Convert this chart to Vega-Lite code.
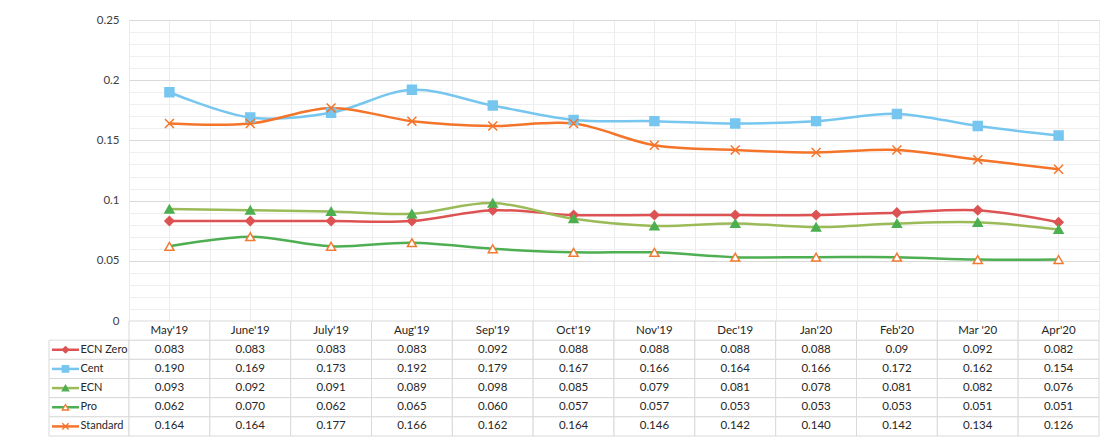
{
  "$schema": "https://vega.github.io/schema/vega-lite/v6.json",
  "padding": {"left": 48, "top": 13, "right": 10, "bottom": 4},
  "background": "white",
  "config": {
    "view": {"stroke": null},
    "font": "Lato",
    "text": {"font": "Lato"},
    "axis": {"labelFont": "Lato"}
  },
  "datasets": {
    "d": [
      {"month":"May'19","series":"ECN Zero","value":0.083,"label":"0.083"},
      {"month":"June'19","series":"ECN Zero","value":0.083,"label":"0.083"},
      {"month":"July'19","series":"ECN Zero","value":0.083,"label":"0.083"},
      {"month":"Aug'19","series":"ECN Zero","value":0.083,"label":"0.083"},
      {"month":"Sep'19","series":"ECN Zero","value":0.092,"label":"0.092"},
      {"month":"Oct'19","series":"ECN Zero","value":0.088,"label":"0.088"},
      {"month":"Nov'19","series":"ECN Zero","value":0.088,"label":"0.088"},
      {"month":"Dec'19","series":"ECN Zero","value":0.088,"label":"0.088"},
      {"month":"Jan'20","series":"ECN Zero","value":0.088,"label":"0.088"},
      {"month":"Feb'20","series":"ECN Zero","value":0.09,"label":"0.09"},
      {"month":"Mar '20","series":"ECN Zero","value":0.092,"label":"0.092"},
      {"month":"Apr'20","series":"ECN Zero","value":0.082,"label":"0.082"},
      {"month":"May'19","series":"Cent","value":0.190,"label":"0.190"},
      {"month":"June'19","series":"Cent","value":0.169,"label":"0.169"},
      {"month":"July'19","series":"Cent","value":0.173,"label":"0.173"},
      {"month":"Aug'19","series":"Cent","value":0.192,"label":"0.192"},
      {"month":"Sep'19","series":"Cent","value":0.179,"label":"0.179"},
      {"month":"Oct'19","series":"Cent","value":0.167,"label":"0.167"},
      {"month":"Nov'19","series":"Cent","value":0.166,"label":"0.166"},
      {"month":"Dec'19","series":"Cent","value":0.164,"label":"0.164"},
      {"month":"Jan'20","series":"Cent","value":0.166,"label":"0.166"},
      {"month":"Feb'20","series":"Cent","value":0.172,"label":"0.172"},
      {"month":"Mar '20","series":"Cent","value":0.162,"label":"0.162"},
      {"month":"Apr'20","series":"Cent","value":0.154,"label":"0.154"},
      {"month":"May'19","series":"ECN","value":0.093,"label":"0.093"},
      {"month":"June'19","series":"ECN","value":0.092,"label":"0.092"},
      {"month":"July'19","series":"ECN","value":0.091,"label":"0.091"},
      {"month":"Aug'19","series":"ECN","value":0.089,"label":"0.089"},
      {"month":"Sep'19","series":"ECN","value":0.098,"label":"0.098"},
      {"month":"Oct'19","series":"ECN","value":0.085,"label":"0.085"},
      {"month":"Nov'19","series":"ECN","value":0.079,"label":"0.079"},
      {"month":"Dec'19","series":"ECN","value":0.081,"label":"0.081"},
      {"month":"Jan'20","series":"ECN","value":0.078,"label":"0.078"},
      {"month":"Feb'20","series":"ECN","value":0.081,"label":"0.081"},
      {"month":"Mar '20","series":"ECN","value":0.082,"label":"0.082"},
      {"month":"Apr'20","series":"ECN","value":0.076,"label":"0.076"},
      {"month":"May'19","series":"Pro","value":0.062,"label":"0.062"},
      {"month":"June'19","series":"Pro","value":0.070,"label":"0.070"},
      {"month":"July'19","series":"Pro","value":0.062,"label":"0.062"},
      {"month":"Aug'19","series":"Pro","value":0.065,"label":"0.065"},
      {"month":"Sep'19","series":"Pro","value":0.060,"label":"0.060"},
      {"month":"Oct'19","series":"Pro","value":0.057,"label":"0.057"},
      {"month":"Nov'19","series":"Pro","value":0.057,"label":"0.057"},
      {"month":"Dec'19","series":"Pro","value":0.053,"label":"0.053"},
      {"month":"Jan'20","series":"Pro","value":0.053,"label":"0.053"},
      {"month":"Feb'20","series":"Pro","value":0.053,"label":"0.053"},
      {"month":"Mar '20","series":"Pro","value":0.051,"label":"0.051"},
      {"month":"Apr'20","series":"Pro","value":0.051,"label":"0.051"},
      {"month":"May'19","series":"Standard","value":0.164,"label":"0.164"},
      {"month":"June'19","series":"Standard","value":0.164,"label":"0.164"},
      {"month":"July'19","series":"Standard","value":0.177,"label":"0.177"},
      {"month":"Aug'19","series":"Standard","value":0.166,"label":"0.166"},
      {"month":"Sep'19","series":"Standard","value":0.162,"label":"0.162"},
      {"month":"Oct'19","series":"Standard","value":0.164,"label":"0.164"},
      {"month":"Nov'19","series":"Standard","value":0.146,"label":"0.146"},
      {"month":"Dec'19","series":"Standard","value":0.142,"label":"0.142"},
      {"month":"Jan'20","series":"Standard","value":0.140,"label":"0.140"},
      {"month":"Feb'20","series":"Standard","value":0.142,"label":"0.142"},
      {"month":"Mar '20","series":"Standard","value":0.134,"label":"0.134"},
      {"month":"Apr'20","series":"Standard","value":0.126,"label":"0.126"}
    ],
    "m": [
      {"month":"May'19"},{"month":"June'19"},{"month":"July'19"},{"month":"Aug'19"},
      {"month":"Sep'19"},{"month":"Oct'19"},{"month":"Nov'19"},{"month":"Dec'19"},
      {"month":"Jan'20"},{"month":"Feb'20"},{"month":"Mar '20"},{"month":"Apr'20"}
    ],
    "s": [
      {"series":"ECN Zero"},{"series":"Cent"},{"series":"ECN"},{"series":"Pro"},{"series":"Standard"}
    ]
  },
  "columns": 2,
  "bounds": "flush",
  "spacing": 0,
  "resolve": {"scale": {"x": "independent", "y": "independent", "color": "independent", "fill": "independent", "stroke": "independent", "shape": "independent"}},
  "concat": [
    {
      "width": 80,
      "height": 301,
      "data": {"values": []},
      "mark": "point",
      "encoding": {}
    },
    {
      "width": 970,
      "height": 301,
      "view": {"stroke": "#d9d9d9"},
      "data": {"name": "d"},
      "resolve": {"axis": {"x": "independent", "y": "independent"}},
      "layer": [
        {
          "mark": {"type": "line", "interpolate": "catmull-rom", "strokeWidth": 2.5},
          "encoding": {
            "x": {
              "field": "month", "type": "nominal",
              "scale": {"domain": ["May'19","June'19","July'19","Aug'19","Sep'19","Oct'19","Nov'19","Dec'19","Jan'20","Feb'20","Mar '20","Apr'20"], "paddingInner": 0, "paddingOuter": 0},
              "axis": {"orient": "bottom", "labels": false, "ticks": false, "domain": false, "grid": true, "tickBand": "extent", "gridColor": "#ececec", "title": null}
            },
            "y": {
              "field": "value", "type": "quantitative",
              "scale": {"domain": [0, 0.25], "nice": false},
              "axis": {"orient": "left", "values": [0, 0.05, 0.1, 0.15, 0.2, 0.25], "format": ".2~f", "grid": true, "gridColor": "#d9d9d9", "ticks": false, "domain": false, "labelPadding": 10, "labelFontSize": 11.5, "labelColor": "#404040", "title": null}
            },
            "color": {
              "field": "series", "type": "nominal",
              "scale": {"domain": ["ECN Zero","Cent","ECN","Pro","Standard"], "range": ["#dd5252","#76c6ef","#9bbb59","#4eae52","#f4742a"]},
              "legend": null
            }
          }
        },
        {
          "mark": {"type": "point", "size": 80, "strokeWidth": 1.5, "opacity": 1},
          "encoding": {
            "x": {
              "field": "month", "type": "nominal",
              "axis": {"orient": "top", "labels": false, "ticks": false, "domain": false, "grid": true, "tickBand": "center", "bandPosition": 0.5, "gridColor": "#ececec", "title": null}
            },
            "y": {
              "field": "value", "type": "quantitative",
              "axis": {"orient": "right", "values": [0.01,0.02,0.03,0.04,0.06,0.07,0.08,0.09,0.11,0.12,0.13,0.14,0.16,0.17,0.18,0.19,0.21,0.22,0.23,0.24], "grid": true, "gridColor": "#efefef", "labels": false, "ticks": false, "domain": false, "title": null}
            },
            "shape": {
              "field": "series", "type": "nominal",
              "scale": {"domain": ["ECN Zero","Cent","ECN","Pro","Standard"], "range": ["diamond","square","triangle-up","triangle-up","M-1,-1L1,1M-1,1L1,-1"]},
              "legend": null
            },
            "fill": {
              "field": "series", "type": "nominal",
              "scale": {"domain": ["ECN Zero","Cent","ECN","Pro","Standard"], "range": ["#dd5252","#76c6ef","#4caf50","#ffffff","#ffffff"]},
              "legend": null
            },
            "stroke": {
              "field": "series", "type": "nominal",
              "scale": {"domain": ["ECN Zero","Cent","ECN","Pro","Standard"], "range": ["#dd5252","#76c6ef","#4caf50","#f07a30","#f4742a"]},
              "legend": null
            }
          }
        }
      ]
    },
    {
      "width": 80,
      "height": 115,
      "data": {"name": "s"},
      "layer": [
        {
          "mark": {"type": "rect", "fill": "white", "stroke": "#d9d9d9", "strokeWidth": 1},
          "encoding": {
            "y": {"field": "series", "type": "nominal", "scale": {"domain": ["hdr","ECN Zero","Cent","ECN","Pro","Standard"], "paddingInner": 0, "paddingOuter": 0}, "axis": null}
          }
        },
        {
          "mark": {"type": "rule", "strokeWidth": 2.5},
          "encoding": {
            "x": {"datum": 3, "type": "quantitative", "scale": {"domain": [0, 80]}, "axis": null},
            "x2": {"datum": 30},
            "y": {"field": "series", "type": "nominal"},
            "color": {
              "field": "series", "type": "nominal",
              "scale": {"domain": ["ECN Zero","Cent","ECN","Pro","Standard"], "range": ["#dd5252","#76c6ef","#9bbb59","#4eae52","#f4742a"]},
              "legend": null
            }
          }
        },
        {
          "mark": {"type": "point", "size": 40, "strokeWidth": 1.3, "opacity": 1},
          "encoding": {
            "x": {"datum": 16.5, "type": "quantitative"},
            "y": {"field": "series", "type": "nominal"},
            "shape": {
              "field": "series", "type": "nominal",
              "scale": {"domain": ["ECN Zero","Cent","ECN","Pro","Standard"], "range": ["diamond","square","triangle-up","triangle-up","M-1,-1L1,1M-1,1L1,-1"]},
              "legend": null
            },
            "fill": {
              "field": "series", "type": "nominal",
              "scale": {"domain": ["ECN Zero","Cent","ECN","Pro","Standard"], "range": ["#dd5252","#76c6ef","#4caf50","#ffffff","#ffffff"]},
              "legend": null
            },
            "stroke": {
              "field": "series", "type": "nominal",
              "scale": {"domain": ["ECN Zero","Cent","ECN","Pro","Standard"], "range": ["#dd5252","#76c6ef","#4caf50","#f07a30","#f4742a"]},
              "legend": null
            }
          }
        },
        {
          "mark": {"type": "text", "align": "left", "baseline": "middle", "fontSize": 11, "color": "#262626"},
          "encoding": {
            "x": {"datum": 31.5, "type": "quantitative"},
            "y": {"field": "series", "type": "nominal"},
            "text": {"field": "series"}
          }
        }
      ]
    },
    {
      "width": 970,
      "height": 115,
      "layer": [
        {
          "data": {"name": "d"},
          "mark": {"type": "rect", "fill": "white", "stroke": "#d9d9d9", "strokeWidth": 1},
          "encoding": {
            "x": {"field": "month", "type": "nominal", "scale": {"domain": ["May'19","June'19","July'19","Aug'19","Sep'19","Oct'19","Nov'19","Dec'19","Jan'20","Feb'20","Mar '20","Apr'20"], "paddingInner": 0, "paddingOuter": 0}, "axis": null},
            "y": {"field": "series", "type": "nominal", "scale": {"domain": ["hdr","ECN Zero","Cent","ECN","Pro","Standard"], "paddingInner": 0, "paddingOuter": 0}, "axis": null}
          }
        },
        {
          "data": {"name": "m"},
          "mark": {"type": "rect", "fill": "white", "stroke": "#d9d9d9", "strokeWidth": 1},
          "encoding": {
            "x": {"field": "month", "type": "nominal"},
            "y": {"datum": "hdr", "type": "nominal"}
          }
        },
        {
          "data": {"name": "d"},
          "mark": {"type": "text", "align": "center", "baseline": "middle", "fontSize": 11.5, "color": "#262626"},
          "encoding": {
            "x": {"field": "month", "type": "nominal"},
            "y": {"field": "series", "type": "nominal"},
            "text": {"field": "label"}
          }
        },
        {
          "data": {"name": "m"},
          "mark": {"type": "text", "align": "center", "baseline": "middle", "fontSize": 11.5, "color": "#262626"},
          "encoding": {
            "x": {"field": "month", "type": "nominal"},
            "y": {"datum": "hdr", "type": "nominal"},
            "text": {"field": "month"}
          }
        }
      ]
    }
  ]
}
